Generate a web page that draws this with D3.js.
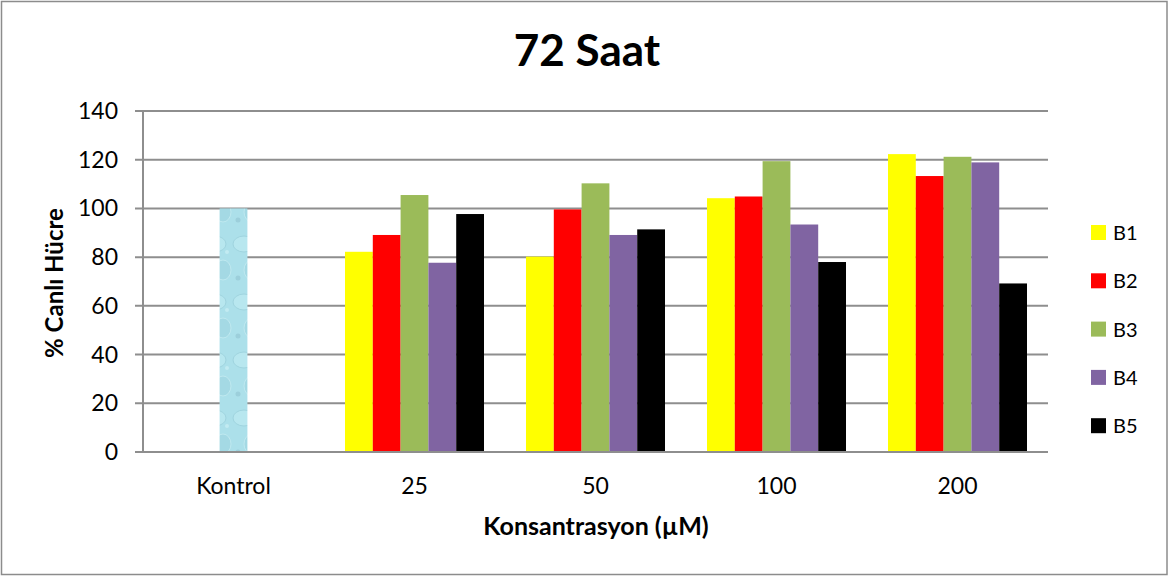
<!DOCTYPE html>
<html>
<head>
<meta charset="utf-8">
<script src="https://cdn.jsdelivr.net/npm/d3@7"></script>
<style>
  body { margin: 0; background: #fff; }
  svg text { font-family: Lato, "Open Sans", sans-serif; fill: #000; }
</style>
</head>
<body>
<div id="chart"></div>
<script>
var categories = ["Kontrol", "25", "50", "100", "200"];
var seriesNames = ["B1", "B2", "B3", "B4", "B5"];
var seriesColors = ["#FFFF00", "#FF0000", "#9BBB59", "#8064A2", "#000000"];
var kontrolValue = 100;
var b1 = [null, 82.2, 80.2, 104.2, 122.3];
var b2 = [null, 89.1, 99.6, 104.9, 113.3];
var b3 = [null, 105.5, 110.3, 119.4, 121.2];
var b4 = [null, 77.7, 89.1, 93.4, 118.9];
var b5 = [null, 97.7, 91.4, 78.0, 69.2];
var yTicks = [0, 20, 40, 60, 80, 100, 120, 140];

var seriesValues = [b1, b2, b3, b4, b5];

var W = 1172, H = 579;
var margin = { left: 143, right: 124, top: 111, bottom: 127 };

var svg = d3.select("#chart").append("svg")
    .attr("width", W)
    .attr("height", H);

// kontrol texture (water-like, low contrast)
var defs = svg.append("defs");
var pat = defs.append("pattern")
    .attr("id", "water")
    .attr("patternUnits", "userSpaceOnUse")
    .attr("width", 29).attr("height", 58);
pat.append("rect").attr("width", 29).attr("height", 58).attr("fill", "#ace0ea");
pat.append("ellipse").attr("cx", 12).attr("cy", 12).attr("rx", 11).attr("ry", 8)
    .attr("fill", "#b8e7ef").attr("stroke", "#9fd4df").attr("stroke-width", 1);
pat.append("ellipse").attr("cx", 20).attr("cy", 38).attr("rx", 8).attr("ry", 10)
    .attr("fill", "#a4d9e4").attr("stroke", "#bfe9f0").attr("stroke-width", 1);
pat.append("circle").attr("cx", 6).attr("cy", 46).attr("r", 2.5).attr("fill", "#9ccfdb");
pat.append("circle").attr("cx", 24).attr("cy", 20).attr("r", 2).attr("fill", "#c2ebf2");

// outer border
svg.append("rect")
    .attr("x", 1.5).attr("y", 1.5)
    .attr("width", 1165.5).attr("height", 573)
    .attr("fill", "#fff")
    .attr("stroke", "#8c8c8c")
    .attr("stroke-width", 1.5);

var x = d3.scaleBand()
    .domain(categories)
    .range([margin.left, W - margin.right])
    .paddingInner(0.232)
    .paddingOuter(0.116);

var xSub = d3.scaleBand()
    .domain(seriesNames)
    .range([0, x.bandwidth()]);

var y = d3.scaleLinear()
    .domain([0, 140])
    .range([H - margin.bottom, margin.top]);

// gridlines
svg.append("g").selectAll("line")
    .data(yTicks)
    .enter().append("line")
    .attr("x1", margin.left - 8)
    .attr("x2", W - margin.right)
    .attr("y1", function(d) { return y(d); })
    .attr("y2", function(d) { return y(d); })
    .attr("stroke", "#8e8e8e")
    .attr("stroke-width", 2);

// y tick labels
svg.append("g").selectAll("text")
    .data(yTicks)
    .enter().append("text")
    .attr("x", 118)
    .attr("y", function(d) { return y(d); })
    .attr("dy", "0.35em")
    .attr("text-anchor", "end")
    .style("font-size", "23px")
    .text(function(d) { return d; });

// kontrol bar
svg.append("rect")
    .attr("x", x("Kontrol") + x.bandwidth() / 2 - xSub.bandwidth() / 2)
    .attr("width", xSub.bandwidth())
    .attr("y", y(kontrolValue))
    .attr("height", y(0) - y(kontrolValue))
    .attr("fill", "url(#water)");

// grouped bars
seriesValues.forEach(function(vals, si) {
    svg.append("g").selectAll("rect")
        .data(categories.map(function(c, i) { return { cat: c, v: vals[i] }; })
            .filter(function(d) { return d.v != null; }))
        .enter().append("rect")
        .attr("x", function(d) { return x(d.cat) + xSub(seriesNames[si]); })
        .attr("width", xSub.bandwidth())
        .attr("y", function(d) { return y(d.v); })
        .attr("height", function(d) { return y(0) - y(d.v); })
        .attr("fill", seriesColors[si]);
});

// axes lines
svg.append("line")
    .attr("x1", margin.left).attr("x2", margin.left)
    .attr("y1", y(140)).attr("y2", y(0))
    .attr("stroke", "#8e8e8e").attr("stroke-width", 2);
svg.append("line")
    .attr("x1", margin.left - 8).attr("x2", W - margin.right)
    .attr("y1", y(0)).attr("y2", y(0))
    .attr("stroke", "#8e8e8e").attr("stroke-width", 2);

// category labels
svg.append("g").selectAll("text")
    .data(categories)
    .enter().append("text")
    .attr("x", function(d) { return x(d) + x.bandwidth() / 2; })
    .attr("y", 494)
    .attr("text-anchor", "middle")
    .style("font-size", "23px")
    .text(function(d) { return d; });

// title
svg.append("text")
    .attr("x", 587)
    .attr("y", 66)
    .attr("text-anchor", "middle")
    .style("font-size", "44px")
    .style("font-weight", "bold")
    .text("72 Saat");

// axis titles
svg.append("text")
    .attr("x", 596)
    .attr("y", 535)
    .attr("text-anchor", "middle")
    .style("font-size", "25px")
    .style("font-weight", "bold")
    .text("Konsantrasyon (µM)");

svg.append("text")
    .attr("transform", "translate(63, 283) rotate(-90)")
    .attr("text-anchor", "middle")
    .style("font-size", "24px")
    .style("font-weight", "bold")
    .text("% Canlı Hücre");

// legend
var legend = svg.append("g")
    .attr("transform", "translate(1091, 225)");
var item = legend.selectAll("g")
    .data(seriesNames)
    .enter().append("g")
    .attr("transform", function(d, i) { return "translate(0," + (i * 48.3) + ")"; });
item.append("rect")
    .attr("width", 15).attr("height", 15)
    .attr("fill", function(d, i) { return seriesColors[i]; });
item.append("text")
    .attr("x", 22)
    .attr("y", 15)
    .style("font-size", "20px")
    .text(function(d) { return d; });
</script>
</body>
</html>
